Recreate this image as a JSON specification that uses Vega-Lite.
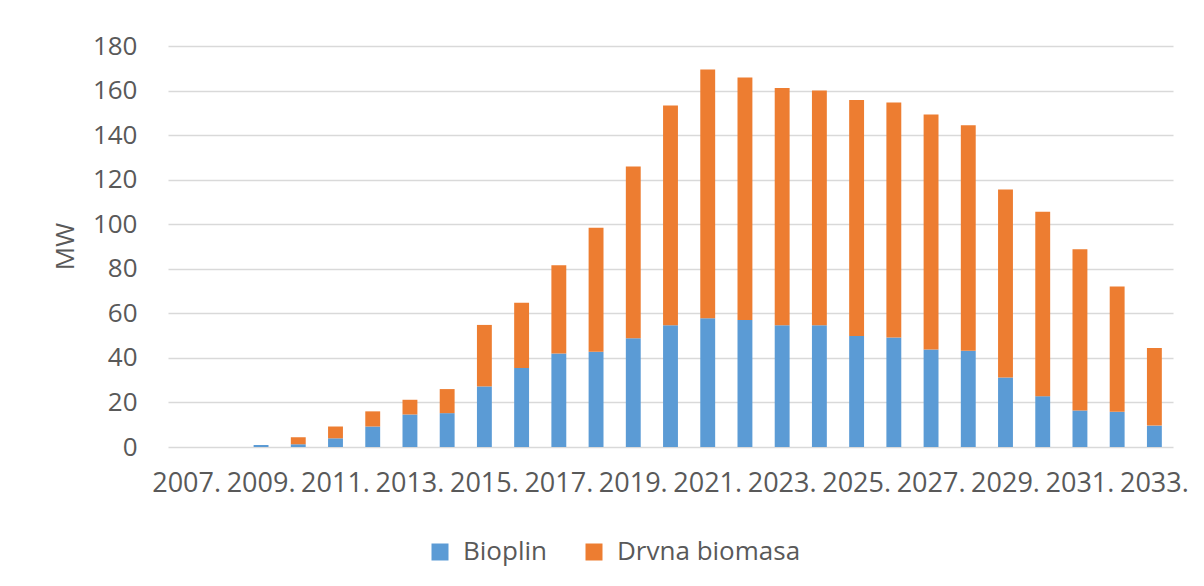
{
  "$schema": "https://vega.github.io/schema/vega-lite/v6.json",
  "width": 1005,
  "height": 401,
  "autosize": {"type": "none"},
  "padding": {"left": 168, "top": 46, "right": 31, "bottom": 139},
  "background": "white",
  "data": {
    "values": [
      {"year": "2007", "type": "Bioplin", "value": 0},
      {"year": "2007", "type": "Drvna biomasa", "value": 0},
      {"year": "2008", "type": "Bioplin", "value": 0},
      {"year": "2008", "type": "Drvna biomasa", "value": 0},
      {"year": "2009", "type": "Bioplin", "value": 0.9},
      {"year": "2009", "type": "Drvna biomasa", "value": 0},
      {"year": "2010", "type": "Bioplin", "value": 1.2},
      {"year": "2010", "type": "Drvna biomasa", "value": 3.2},
      {"year": "2011", "type": "Bioplin", "value": 3.9},
      {"year": "2011", "type": "Drvna biomasa", "value": 5.3},
      {"year": "2012", "type": "Bioplin", "value": 9.2},
      {"year": "2012", "type": "Drvna biomasa", "value": 6.8},
      {"year": "2013", "type": "Bioplin", "value": 14.6},
      {"year": "2013", "type": "Drvna biomasa", "value": 6.6},
      {"year": "2014", "type": "Bioplin", "value": 15.2},
      {"year": "2014", "type": "Drvna biomasa", "value": 10.8},
      {"year": "2015", "type": "Bioplin", "value": 27.2},
      {"year": "2015", "type": "Drvna biomasa", "value": 27.6},
      {"year": "2016", "type": "Bioplin", "value": 35.5},
      {"year": "2016", "type": "Drvna biomasa", "value": 29.3},
      {"year": "2017", "type": "Bioplin", "value": 42.0},
      {"year": "2017", "type": "Drvna biomasa", "value": 39.6},
      {"year": "2018", "type": "Bioplin", "value": 42.8},
      {"year": "2018", "type": "Drvna biomasa", "value": 55.6},
      {"year": "2019", "type": "Bioplin", "value": 48.8},
      {"year": "2019", "type": "Drvna biomasa", "value": 77.1},
      {"year": "2020", "type": "Bioplin", "value": 54.6},
      {"year": "2020", "type": "Drvna biomasa", "value": 98.7},
      {"year": "2021", "type": "Bioplin", "value": 57.8},
      {"year": "2021", "type": "Drvna biomasa", "value": 111.7},
      {"year": "2022", "type": "Bioplin", "value": 57.0},
      {"year": "2022", "type": "Drvna biomasa", "value": 108.9},
      {"year": "2023", "type": "Bioplin", "value": 54.6},
      {"year": "2023", "type": "Drvna biomasa", "value": 106.6},
      {"year": "2024", "type": "Bioplin", "value": 54.6},
      {"year": "2024", "type": "Drvna biomasa", "value": 105.4},
      {"year": "2025", "type": "Bioplin", "value": 49.8},
      {"year": "2025", "type": "Drvna biomasa", "value": 106.0},
      {"year": "2026", "type": "Bioplin", "value": 49.2},
      {"year": "2026", "type": "Drvna biomasa", "value": 105.4},
      {"year": "2027", "type": "Bioplin", "value": 43.8},
      {"year": "2027", "type": "Drvna biomasa", "value": 105.4},
      {"year": "2028", "type": "Bioplin", "value": 43.2},
      {"year": "2028", "type": "Drvna biomasa", "value": 101.2},
      {"year": "2029", "type": "Bioplin", "value": 31.2},
      {"year": "2029", "type": "Drvna biomasa", "value": 84.4},
      {"year": "2030", "type": "Bioplin", "value": 22.8},
      {"year": "2030", "type": "Drvna biomasa", "value": 82.8},
      {"year": "2031", "type": "Bioplin", "value": 16.4},
      {"year": "2031", "type": "Drvna biomasa", "value": 72.4},
      {"year": "2032", "type": "Bioplin", "value": 15.8},
      {"year": "2032", "type": "Drvna biomasa", "value": 56.2},
      {"year": "2033", "type": "Bioplin", "value": 9.6},
      {"year": "2033", "type": "Drvna biomasa", "value": 34.8}
    ]
  },
  "mark": {"type": "bar"},
  "encoding": {
    "x": {
      "field": "year",
      "type": "ordinal",
      "scale": {"paddingInner": 0.6, "paddingOuter": 0.3},
      "axis": {
        "title": null,
        "labelAngle": 0,
        "labelOverlap": false,
        "labelBound": false,
        "labelExpr": "(+datum.value - 2007) % 2 == 0 ? datum.value + '.' : ''",
        "ticks": false,
        "domain": false,
        "labelPadding": 23,
        "labelFontSize": 27,
        "labelFont": "Open Sans",
        "labelColor": "#595959"
      }
    },
    "y": {
      "field": "value",
      "type": "quantitative",
      "stack": "zero",
      "scale": {"domain": [0, 180]},
      "axis": {
        "title": "MW",
        "values": [0, 20, 40, 60, 80, 100, 120, 140, 160, 180],
        "ticks": false,
        "domain": false,
        "grid": true,
        "gridColor": "#d9d9d9",
        "gridWidth": 1.5,
        "labelPadding": 31,
        "labelFontSize": 26,
        "labelFont": "Open Sans",
        "labelColor": "#595959",
        "titleFont": "Open Sans",
        "titleFontSize": 26,
        "titleFontWeight": "normal",
        "titleColor": "#595959",
        "titleX": -103,
        "titleY": 200,
        "titleAngle": -90,
        "titleAlign": "center",
        "titleBaseline": "middle"
      }
    },
    "order": {"field": "type", "sort": "ascending"},
    "color": {
      "field": "type",
      "type": "nominal",
      "scale": {"domain": ["Bioplin", "Drvna biomasa"], "range": ["#5B9BD5", "#ED7D31"]},
      "legend": {
        "title": null,
        "orient": "none",
        "direction": "horizontal",
        "legendX": 259,
        "legendY": 493,
        "symbolType": "square",
        "symbolSize": 289,
        "symbolStrokeWidth": 0,
        "labelFont": "Open Sans",
        "labelFontSize": 26,
        "labelColor": "#595959",
        "labelOffset": 10,
        "labelLimit": 400,
        "columnPadding": 34
      }
    }
  },
  "config": {"view": {"stroke": null}}
}
